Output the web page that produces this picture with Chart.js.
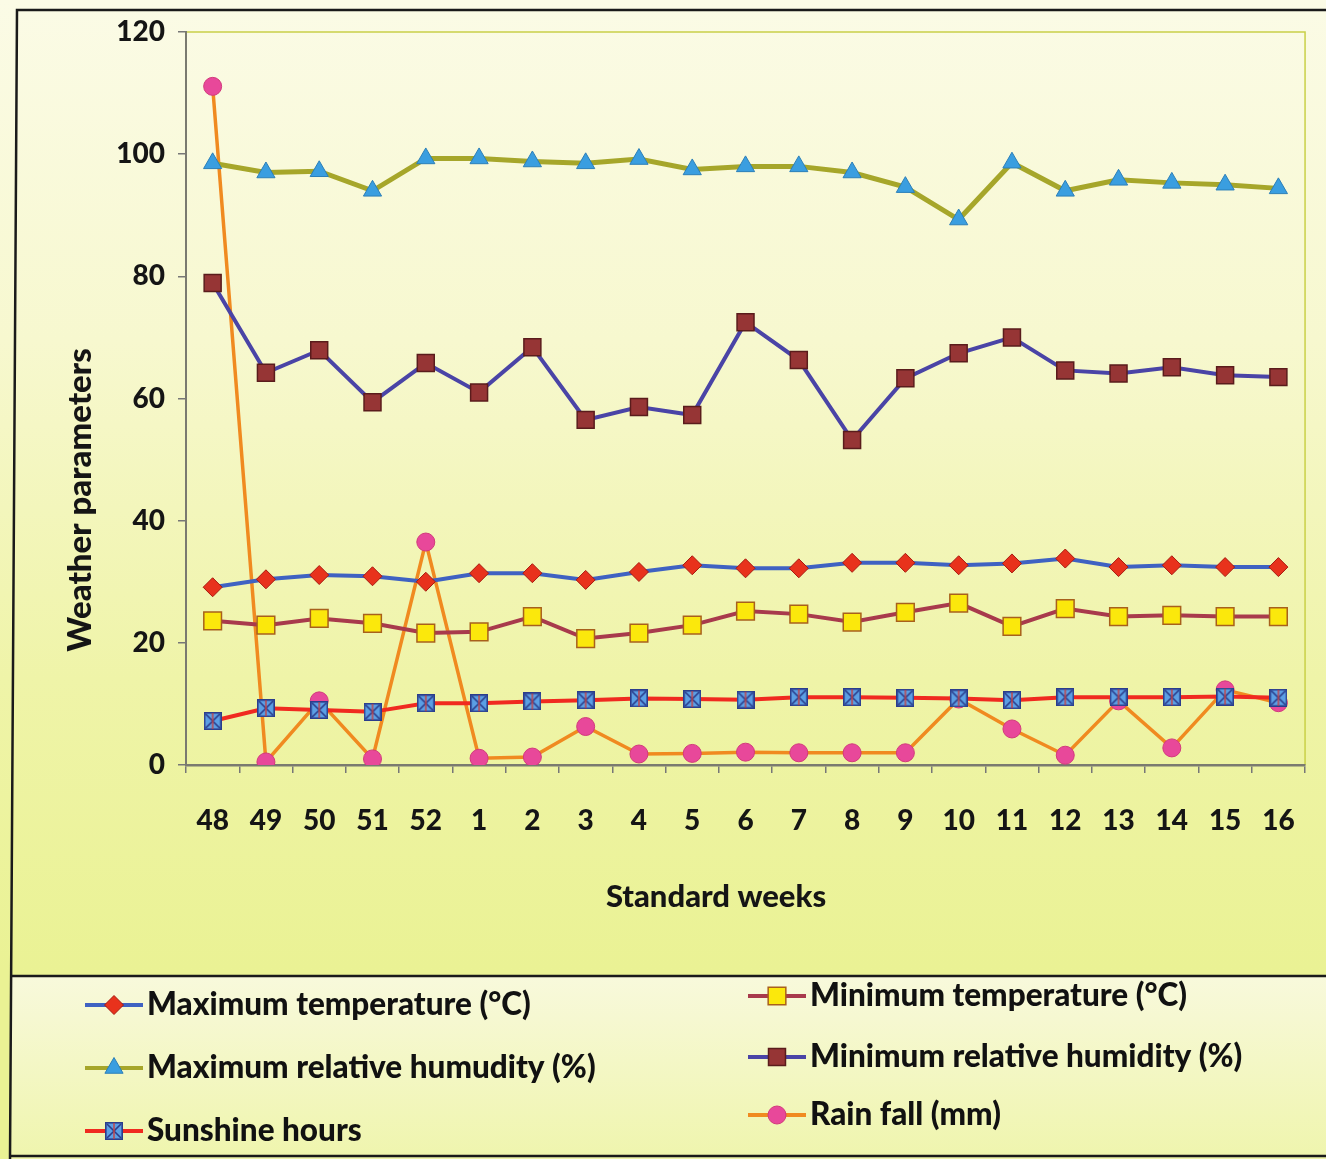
<!DOCTYPE html>
<html>
<head>
<meta charset="utf-8">
<script src="https://cdn.jsdelivr.net/npm/chart.js@4.4.1/dist/chart.umd.min.js"></script>
<style>
  html, body { margin: 0; padding: 0; background: #fbfbe6; }
  #wrap { width: 1326px; height: 1159px; }
</style>
</head>
<body>
<div id="wrap"><canvas id="c" width="1326" height="1159"></canvas></div>
<script>
// Standard weeks (48-52 of one year, 1-16 of the next)
const weeks = ['48','49','50','51','52','1','2','3','4','5','6','7','8','9','10','11','12','13','14','15','16'];

const maxTemp = [29.1,30.4,31.1,30.9,30.0,31.4,31.4,30.3,31.6,32.7,32.2,32.2,33.1,33.1,32.7,33.0,33.8,32.4,32.7,32.4,32.4];
const minTemp = [23.6,22.9,24.0,23.2,21.6,21.8,24.3,20.7,21.6,22.9,25.2,24.7,23.4,25.0,26.5,22.7,25.6,24.3,24.5,24.3,24.3];
const maxRH   = [98.5,97.0,97.2,94.0,99.3,99.3,98.8,98.5,99.2,97.5,98.0,98.0,97.0,94.6,89.3,98.6,94.0,95.8,95.3,95.0,94.4];
const minRH   = [78.9,64.2,67.9,59.4,65.8,61.0,68.4,56.5,58.6,57.3,72.5,66.3,53.2,63.3,67.4,70.0,64.6,64.1,65.1,63.8,63.5];
const sunshine= [7.2,9.3,9.0,8.7,10.1,10.1,10.4,10.6,10.9,10.8,10.7,11.1,11.1,11.0,10.9,10.6,11.1,11.1,11.1,11.2,11.0];
const rainfall= [111.1,0.5,10.5,1.0,36.5,1.1,1.3,6.3,1.8,1.9,2.1,2.0,2.0,2.0,10.8,5.9,1.6,10.5,2.8,12.3,10.2];

const yTicks = [0, 20, 40, 60, 80, 100, 120];

const xTitle = 'Standard weeks';
const yTitle = 'Weather parameters';

const FONT = 'Lato, "Open Sans", sans-serif';
const WEIGHT = '900';

// square marker with a cross, used for sunshine hours
function crossSquare(size) {
  const cv = document.createElement('canvas');
  cv.width = size; cv.height = size;
  const g = cv.getContext('2d');
  g.fillStyle = '#5b9fe4';
  g.fillRect(0, 0, size, size);
  g.strokeStyle = '#2b3d8c';
  g.lineWidth = 1.6;
  g.strokeRect(0.8, 0.8, size - 1.6, size - 1.6);
  g.beginPath();
  g.moveTo(2, 2); g.lineTo(size - 2, size - 2);
  g.moveTo(size - 2, 2); g.lineTo(2, size - 2);
  g.stroke();
  g.strokeStyle = '#c84040';
  g.lineWidth = 1.4;
  g.beginPath();
  g.moveTo(size / 2, 1); g.lineTo(size / 2, size - 1);
  g.stroke();
  return cv;
}
const sunMarker = crossSquare(18);

const datasets = [
  { label: 'Maximum temperature (°C)', data: maxTemp, borderColor: '#3f62c2', borderWidth: 4,
    pointStyle: 'rectRot', pointRadius: 9.5, pointBackgroundColor: '#e8321c', pointBorderColor: '#a81a10', pointBorderWidth: 1 },
  { label: 'Minimum temperature (°C)', data: minTemp, borderColor: '#a83a4c', borderWidth: 4,
    pointStyle: 'rect', pointRadius: 12.5, pointBackgroundColor: '#fbe80c', pointBorderColor: '#a8601c', pointBorderWidth: 1.5 },
  { label: 'Maximum relative humudity (%)', data: maxRH, borderColor: '#a6a62a', borderWidth: 5,
    pointStyle: 'triangle', pointRadius: 10.5, pointBackgroundColor: '#3a9ee0', pointBorderColor: '#2c7fb8', pointBorderWidth: 1 },
  { label: 'Minimum relative humidity (%)', data: minRH, borderColor: '#4a44a6', borderWidth: 4,
    pointStyle: 'rect', pointRadius: 12, pointBackgroundColor: '#963535', pointBorderColor: '#5a1c1c', pointBorderWidth: 1.5 },
  { label: 'Sunshine hours', data: sunshine, borderColor: '#f02a20', borderWidth: 4,
    pointStyle: sunMarker, pointRadius: 9 },
  { label: 'Rain fall (mm)', data: rainfall, borderColor: '#f08a20', borderWidth: 3.5,
    pointStyle: 'circle', pointRadius: 9, pointBackgroundColor: '#e8489a', pointBorderColor: '#d23a7c', pointBorderWidth: 1 }
];
datasets.forEach(d => {
  d.tension = 0;
  d.fill = false;
  d.pointHoverRadius = d.pointRadius;
  d.backgroundColor = d.pointBackgroundColor || d.borderColor;
});

// page background, outer frame and legend box
const backdrop = {
  id: 'backdrop',
  beforeDraw(chart) {
    const ctx = chart.ctx;
    const W = chart.width, H = chart.height;
    ctx.save();
    const g = ctx.createLinearGradient(0, 0, 0, 970);
    g.addColorStop(0, '#fbfbe6');
    g.addColorStop(0.35, '#f7f8cf');
    g.addColorStop(0.7, '#eff4a8');
    g.addColorStop(1, '#eaf294');
    ctx.fillStyle = g;
    ctx.fillRect(0, 0, W, H);

    const lg = ctx.createLinearGradient(0, 975, 0, H);
    lg.addColorStop(0, '#f8f9dc');
    lg.addColorStop(1, '#eff5ad');
    ctx.fillStyle = lg;
    ctx.fillRect(10, 975, W - 10, H - 975);

    // outer frame
    ctx.strokeStyle = '#1a1a1a';
    ctx.lineWidth = 2.5;
    ctx.beginPath();
    ctx.moveTo(W, 10); ctx.lineTo(17, 10); ctx.lineTo(10, H);
    ctx.stroke();
    // legend box border
    ctx.beginPath();
    ctx.moveTo(10, 976); ctx.lineTo(W, 976);
    ctx.moveTo(10, 1156); ctx.lineTo(W, 1156);
    ctx.stroke();

    // plot area frame (top and right)
    const a = chart.chartArea;
    ctx.strokeStyle = '#c9d048';
    ctx.lineWidth = 1.5;
    ctx.beginPath();
    ctx.moveTo(a.left, a.top); ctx.lineTo(a.right, a.top); ctx.lineTo(a.right, a.bottom);
    ctx.stroke();
    ctx.restore();
  }
};

// axis titles
const axisTitles = {
  id: 'axisTitles',
  afterDraw(chart) {
    const ctx = chart.ctx;
    ctx.save();
    ctx.fillStyle = '#151515';
    ctx.textAlign = 'center';
    ctx.textBaseline = 'middle';
    ctx.font = WEIGHT + ' 31px ' + FONT;
    ctx.fillText(xTitle, 716, 897);
    ctx.translate(80, 500);
    ctx.rotate(-Math.PI / 2);
    ctx.font = WEIGHT + ' 33px ' + FONT;
    ctx.fillText(yTitle, 0, 0);
    ctx.restore();
  }
};

// two-column legend below the chart
const legendSlots = [
  { x: 85,  y: 1005 }, { x: 748, y: 996 },
  { x: 85,  y: 1068 }, { x: 748, y: 1057 },
  { x: 85,  y: 1131 }, { x: 748, y: 1115 }
];
const boxLegend = {
  id: 'boxLegend',
  afterDraw(chart) {
    const ctx = chart.ctx;
    ctx.save();
    chart.data.datasets.forEach((ds, i) => {
      const s = legendSlots[i];
      ctx.strokeStyle = ds.borderColor;
      ctx.lineWidth = 4;
      ctx.beginPath();
      ctx.moveTo(s.x, s.y); ctx.lineTo(s.x + 58, s.y);
      ctx.stroke();
      ctx.fillStyle = ds.pointBackgroundColor || '#000';
      ctx.strokeStyle = ds.pointBorderColor || ds.borderColor;
      ctx.lineWidth = ds.pointBorderWidth || 1;
      Chart.helpers.drawPoint(ctx, {
        pointStyle: ds.pointStyle,
        radius: ds.pointRadius,
        rotation: 0,
        borderWidth: ds.pointBorderWidth || 1
      }, s.x + 29, s.y);
      ctx.fillStyle = '#111';
      ctx.font = WEIGHT + ' 31.5px ' + FONT;
      ctx.textBaseline = 'middle';
      ctx.textAlign = 'left';
      ctx.fillText(ds.label, s.x + 62, s.y);
    });
    ctx.restore();
  }
};

new Chart(document.getElementById('c'), {
  type: 'line',
  data: { labels: weeks, datasets },
  plugins: [backdrop, axisTitles, boxLegend],
  options: {
    responsive: false,
    devicePixelRatio: 1,
    animation: false,
    events: [],
    layout: { padding: { left: 60, top: 32, right: 15, bottom: 244 } },
    plugins: { legend: { display: false }, tooltip: { enabled: false } },
    scales: {
      x: {
        type: 'category',
        offset: true,
        afterFit(s) { s.height = 150; },
        grid: { display: true, drawOnChartArea: false, offset: true, tickLength: 8, color: '#777', lineWidth: 1.5 },
        border: { color: '#7a7a70', width: 2.5 },
        ticks: { color: '#151515', font: { family: FONT, size: 28, weight: WEIGHT }, padding: 31, maxRotation: 0, autoSkip: false },
        title: { display: false }
      },
      y: {
        min: 0, max: 120,
        afterFit(s) { s.width = 126; },
        afterBuildTicks(s) { s.ticks = yTicks.map(v => ({ value: v })); },
        grid: { display: true, drawOnChartArea: false, tickLength: 8, color: '#777', lineWidth: 1.5 },
        border: { color: '#7a7a70', width: 2 },
        ticks: { color: '#151515', font: { family: FONT, size: 28, weight: WEIGHT }, padding: 13 },
        title: { display: false }
      }
    }
  }
});
</script>
</body>
</html>
